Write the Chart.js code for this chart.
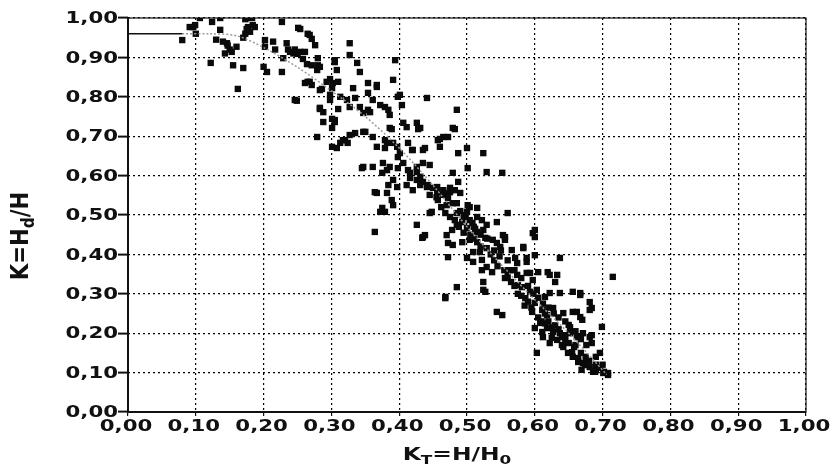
<!DOCTYPE html>
<html>
<head>
<meta charset="utf-8">
<script src="https://cdn.jsdelivr.net/npm/chart.js@4"></script>
<style>
  body { margin: 0; background: #fff; }
  .canvas-container { width: 839px; height: 468px; }
</style>
</head>
<body>
<div class="canvas-container"><canvas id="chart"></canvas></div>
<script>
// axis ticks
const tickValues = [0, 0.1, 0.2, 0.3, 0.4, 0.5, 0.6, 0.7, 0.8, 0.9, 1.0];
const tickLabels = ["0,00", "0,10", "0,20", "0,30", "0,40", "0,50", "0,60", "0,70", "0,80", "0,90", "1,00"];

const band1 = [
  [0.080,0.944],[0.106,1.000],[0.096,0.977],[0.100,0.960],[0.124,0.990],[0.136,1.000],[0.136,0.970],
  [0.130,0.945],[0.122,0.886],[0.146,0.936],[0.150,0.920],[0.143,0.910],[0.160,0.927],[0.155,0.880],
  [0.170,0.873],[0.162,0.820],[0.175,1.000],[0.183,1.000],[0.177,0.977],[0.173,0.960],[0.170,0.950],
  [0.180,0.965],[0.187,0.977],[0.202,0.944],[0.200,0.876],[0.205,0.863],[0.214,0.940],[0.217,0.920],
  [0.227,0.990],[0.229,0.898],[0.227,0.863],[0.234,0.936],[0.236,0.920],[0.244,0.910],[0.249,0.790],
  [0.251,0.975],[0.091,0.977],[0.099,0.982],[0.140,0.940],[0.147,0.930],[0.153,0.914],[0.173,0.997],
  [0.175,0.972],[0.184,0.982],[0.202,0.927],[0.239,0.914],[0.246,0.920],[0.250,0.909],[0.254,0.972],
  [0.258,0.896],[0.246,0.792]
];
const band2 = [
  [0.265,0.960],[0.271,0.947],[0.276,0.931],[0.264,0.883],[0.271,0.880],[0.280,0.880],[0.279,0.868],
  [0.265,0.838],[0.271,0.830],[0.286,0.820],[0.283,0.769],[0.288,0.761],[0.288,0.736],[0.293,0.838],
  [0.298,0.805],[0.279,0.698],[0.298,0.845],[0.301,0.744],[0.268,0.957],[0.254,0.914],[0.261,0.914],
  [0.283,0.876],[0.280,0.898],[0.268,0.838],[0.261,0.835],[0.283,0.817],[0.298,0.792],[0.283,0.772],
  [0.301,0.822],[0.305,0.888],[0.308,0.868],[0.302,0.835],[0.310,0.838],[0.327,0.936],[0.327,0.906],
  [0.338,0.886],[0.342,0.863],[0.332,0.822],[0.335,0.797],[0.323,0.792],[0.313,0.800],[0.327,0.774],
  [0.342,0.774],[0.347,0.759],[0.305,0.741],[0.301,0.721],[0.327,0.703],[0.320,0.690],[0.301,0.673],
  [0.313,0.683],[0.324,0.683],[0.335,0.708],[0.347,0.711],[0.305,0.893],[0.310,0.769],[0.305,0.736],
  [0.317,0.690],[0.308,0.670],[0.345,0.619],[0.347,0.622]
];
const band3 = [
  [0.354,0.835],[0.367,0.825],[0.354,0.810],[0.361,0.792],[0.372,0.779],[0.379,0.774],[0.384,0.767],
  [0.386,0.754],[0.354,0.767],[0.350,0.711],[0.361,0.698],[0.367,0.673],[0.379,0.690],[0.386,0.721],
  [0.382,0.683],[0.391,0.683],[0.394,0.893],[0.391,0.843],[0.398,0.800],[0.404,0.779],[0.406,0.734],
  [0.411,0.723],[0.426,0.734],[0.431,0.721],[0.441,0.797],[0.413,0.683],[0.420,0.665],[0.435,0.665],
  [0.397,0.673],[0.401,0.657],[0.375,0.607],[0.386,0.622],[0.361,0.622],[0.376,0.632],[0.382,0.614],
  [0.391,0.589],[0.398,0.619],[0.406,0.632],[0.416,0.607],[0.426,0.622],[0.435,0.632],[0.445,0.627],
  [0.426,0.589],[0.431,0.576],[0.441,0.571],[0.367,0.556],[0.384,0.576],[0.397,0.571],[0.411,0.576],
  [0.420,0.563],[0.367,0.830],[0.357,0.761],[0.401,0.805],[0.428,0.718],[0.389,0.718],[0.379,0.670],
  [0.398,0.647],[0.419,0.665],[0.438,0.670],[0.413,0.614],[0.426,0.609],[0.416,0.594],[0.431,0.597],
  [0.435,0.584],[0.442,0.576],[0.445,0.551],[0.364,0.558],[0.375,0.518],[0.379,0.508],[0.382,0.556],
  [0.389,0.538],[0.391,0.525],[0.372,0.508],[0.364,0.457],[0.426,0.475],[0.438,0.449],[0.434,0.442],
  [0.445,0.505],[0.435,0.444],[0.448,0.508]
];
const band4 = [
  [0.456,0.571],[0.465,0.563],[0.475,0.558],[0.482,0.563],[0.479,0.607],[0.485,0.767],[0.479,0.721],
  [0.465,0.698],[0.457,0.690],[0.460,0.673],[0.487,0.657],[0.500,0.670],[0.501,0.619],[0.524,0.657],
  [0.529,0.609],[0.552,0.607],[0.482,0.718],[0.460,0.693],[0.472,0.698],[0.450,0.569],[0.456,0.558],
  [0.465,0.551],[0.457,0.538],[0.472,0.543],[0.470,0.525],[0.479,0.530],[0.487,0.584],[0.475,0.569],
  [0.490,0.556],[0.504,0.520],[0.515,0.518],[0.500,0.508],[0.485,0.505],[0.482,0.487],[0.493,0.482],
  [0.504,0.487],[0.515,0.495],[0.522,0.487],[0.529,0.475],[0.524,0.462],[0.515,0.457],[0.500,0.467],
  [0.485,0.475],[0.478,0.462],[0.470,0.449],[0.472,0.429],[0.479,0.424],[0.493,0.431],[0.504,0.437],
  [0.515,0.431],[0.527,0.442],[0.529,0.416],[0.519,0.406],[0.509,0.406],[0.500,0.391],[0.509,0.381],
  [0.522,0.386],[0.529,0.368],[0.522,0.360],[0.524,0.330],[0.527,0.305],[0.485,0.317],[0.468,0.292],
  [0.472,0.393],[0.468,0.289],[0.501,0.525],[0.544,0.482],[0.560,0.505],[0.544,0.429],[0.553,0.449],
  [0.524,0.310],[0.544,0.254],[0.552,0.246],[0.538,0.437],[0.549,0.419],[0.556,0.444],[0.537,0.355],
  [0.556,0.437],[0.455,0.545],[0.462,0.520],[0.468,0.505],[0.475,0.495],[0.488,0.470],[0.495,0.455],
  [0.505,0.450],[0.510,0.440],[0.512,0.465],[0.520,0.420],[0.535,0.400],[0.540,0.385],[0.545,0.370],
  [0.548,0.395],[0.530,0.440],[0.540,0.410],[0.498,0.500],[0.508,0.480],[0.490,0.510],[0.520,0.450],
  [0.510,0.470],[0.495,0.495],[0.485,0.530],[0.470,0.555]
];
const band5 = [
  [0.566,0.411],[0.574,0.378],[0.583,0.419],[0.588,0.391],[0.597,0.454],[0.600,0.398],[0.603,0.150],
  [0.588,0.353],[0.597,0.335],[0.583,0.416],[0.600,0.462],[0.600,0.444],[0.588,0.381],[0.637,0.391],
  [0.571,0.391],[0.563,0.360],[0.574,0.348],[0.593,0.353],[0.605,0.355],[0.622,0.348],[0.633,0.348],
  [0.581,0.317],[0.593,0.305],[0.603,0.310],[0.615,0.292],[0.622,0.302],[0.637,0.302],[0.656,0.305],
  [0.667,0.302],[0.681,0.279],[0.681,0.259],[0.715,0.343],[0.600,0.277],[0.611,0.259],[0.618,0.246],
  [0.627,0.264],[0.642,0.251],[0.656,0.254],[0.667,0.241],[0.608,0.226],[0.618,0.213],[0.627,0.203],
  [0.637,0.200],[0.645,0.195],[0.652,0.200],[0.662,0.190],[0.671,0.200],[0.681,0.190],[0.699,0.216],
  [0.696,0.150],[0.642,0.165],[0.649,0.150],[0.656,0.140],[0.664,0.137],[0.671,0.124],[0.669,0.107],
  [0.681,0.114],[0.690,0.107],[0.702,0.102],[0.708,0.099],[0.686,0.102],[0.622,0.175],[0.612,0.190],
  [0.633,0.183],[0.619,0.355],[0.630,0.330],[0.667,0.297],[0.684,0.264],[0.662,0.254],[0.670,0.234],
  [0.650,0.221],[0.684,0.195],[0.684,0.175],[0.600,0.213],[0.611,0.203],[0.625,0.188],[0.640,0.170],
  [0.655,0.152],[0.664,0.127],[0.674,0.119],[0.689,0.102],[0.701,0.099],[0.708,0.094],[0.586,0.289],
  [0.596,0.254],[0.575,0.322],[0.556,0.340],[0.555,0.360],[0.560,0.345],[0.565,0.330],[0.570,0.320],
  [0.575,0.300],[0.580,0.295],[0.585,0.270],[0.590,0.280],[0.595,0.265],[0.605,0.240],[0.610,0.230],
  [0.615,0.225],[0.620,0.230],[0.625,0.215],[0.630,0.220],[0.635,0.210],[0.640,0.190],[0.645,0.180],
  [0.650,0.175],[0.658,0.165],[0.660,0.170],[0.668,0.150],[0.675,0.140],[0.680,0.130],[0.690,0.120],
  [0.695,0.112],[0.605,0.290],[0.612,0.275],[0.620,0.265],[0.628,0.250],[0.635,0.240],[0.645,0.230],
  [0.652,0.215],[0.660,0.205],[0.668,0.185],[0.676,0.170],[0.690,0.140],[0.700,0.120],[0.615,0.250],
  [0.598,0.300],[0.590,0.320],[0.580,0.340],[0.570,0.360],[0.560,0.385],[0.550,0.410]
];

// fitted curve
const fitFlatX = [0.00, 0.08];
const fitFlatY = [0.96, 0.96];
const fitCurveX = [0.08, 0.12, 0.16, 0.20, 0.25, 0.30, 0.35, 0.40, 0.45, 0.50, 0.55, 0.60, 0.65, 0.706];
const fitCurveY = [0.96, 0.96, 0.955, 0.925, 0.875, 0.815, 0.75, 0.67, 0.575, 0.47, 0.375, 0.285, 0.20, 0.095];

const FONT = '"DejaVu Sans", "Liberation Sans", sans-serif';
const STRETCH = 1.33;

const toXY = (xs, ys) => xs.map((x, i) => ({ x: x, y: ys[i] }));
const points = [].concat(band1, band2, band3, band4, band5).map(p => ({ x: p[0], y: p[1] }));

function stretchText(ctx, s, px, py, align) {
  ctx.save();
  ctx.translate(px, py);
  ctx.scale(STRETCH, 1);
  ctx.textAlign = align;
  ctx.fillText(s, 0, 0);
  ctx.restore();
}

// draws parts of a label with subscripts, centred on 0,0 of current transform
function drawParts(ctx, parts, size) {
  let total = 0;
  const widths = parts.map(p => {
    ctx.font = "bold " + (p.sub ? size * 0.72 : size) + "px " + FONT;
    const w = ctx.measureText(p.t).width;
    total += w;
    return w;
  });
  let cx = -total / 2;
  parts.forEach((p, i) => {
    ctx.font = "bold " + (p.sub ? size * 0.72 : size) + "px " + FONT;
    ctx.textAlign = "left";
    ctx.fillText(p.t, cx, p.sub ? size * 0.3 : 0);
    cx += widths[i];
  });
}

const axisText = {
  id: "axisText",
  afterDraw(chart) {
    const { ctx, chartArea: a, scales } = chart;
    ctx.save();
    // frame
    ctx.strokeStyle = "#111";
    ctx.lineWidth = 1.2;
    ctx.strokeRect(a.left, a.top, a.right - a.left, a.bottom - a.top);
    ctx.lineWidth = 2;
    ctx.beginPath();
    ctx.moveTo(a.left, a.top);
    ctx.lineTo(a.left, a.bottom);
    ctx.lineTo(a.right, a.bottom);
    ctx.stroke();

    ctx.fillStyle = "#111";
    ctx.font = "bold 16px " + FONT;
    ctx.textBaseline = "middle";
    tickValues.forEach((v, i) => {
      stretchText(ctx, tickLabels[i], a.left - 10, scales.y.getPixelForValue(v) + 1, "right");
      stretchText(ctx, tickLabels[i], scales.x.getPixelForValue(v) - 2, a.bottom + 15, "center");
    });

    // x title
    ctx.save();
    ctx.translate(457, 455);
    ctx.scale(1.3, 1);
    drawParts(ctx, [{ t: "K" }, { t: "T", sub: true }, { t: "=H/H" }, { t: "0", sub: true }], 18);
    ctx.restore();

    // y title
    ctx.save();
    ctx.translate(22, 236);
    ctx.rotate(-Math.PI / 2);
    ctx.scale(1.12, 1.3);
    drawParts(ctx, [{ t: "K=H" }, { t: "d", sub: true }, { t: "/H" }], 19);
    ctx.restore();
    ctx.restore();
  },
};

new Chart(document.getElementById("chart"), {
  type: "scatter",
  data: {
    datasets: [
      {
        type: "line",
        data: toXY(fitFlatX, fitFlatY),
        borderColor: "#111",
        borderWidth: 1.5,
        pointRadius: 0,
        order: 0,
      },
      {
        type: "line",
        data: toXY(fitCurveX, fitCurveY),
        borderColor: "#9a9a9a",
        borderWidth: 1.5,
        borderDash: [2, 2],
        pointRadius: 0,
        tension: 0.3,
        order: 0,
      },
      {
        data: points,
        pointStyle: "rect",
        pointRadius: 4.5,
        backgroundColor: "#0a0a0a",
        borderColor: "#0a0a0a",
        borderWidth: 0,
        order: 1,
      },
    ],
  },
  options: {
    responsive: true,
    maintainAspectRatio: false,
    animation: false,
    layout: { padding: { top: 18, right: 33, left: 0, bottom: 0 } },
    plugins: {
      legend: { display: false },
      tooltip: { enabled: false },
    },
    scales: {
      x: {
        type: "linear",
        min: 0,
        max: 1,
        ticks: { stepSize: 0.1, display: false },
        grid: { color: "#000", lineWidth: 1.2, tickLength: 4, tickColor: "#111", tickBorderDash: [] },
        border: { display: false, dash: [2, 3] },
        afterFit(s) { s.height = 56; },
      },
      y: {
        min: 0,
        max: 1,
        ticks: { stepSize: 0.1, display: false },
        grid: { color: "#000", lineWidth: 1.2, tickLength: 10, tickColor: "#111", tickWidth: 2, tickBorderDash: [] },
        border: { display: false, dash: [2, 3] },
        afterFit(s) { s.width = 128; },
      },
    },
  },
  plugins: [axisText],
});
</script>
</body>
</html>
